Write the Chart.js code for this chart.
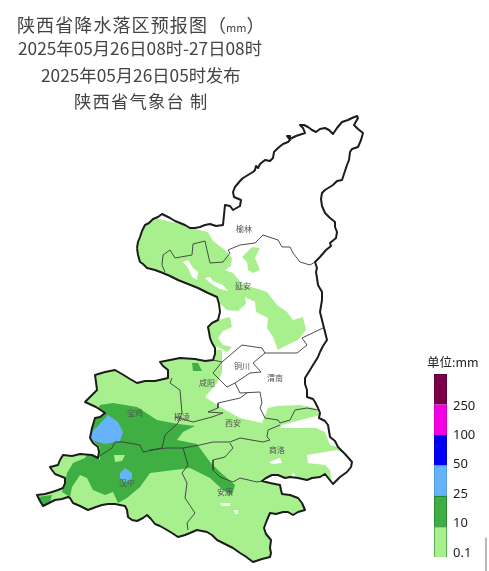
<!DOCTYPE html>
<html>
<head>
<meta charset="utf-8">
<script src="https://cdn.jsdelivr.net/npm/chart.js@4"></script>
<style>
  html, body { margin: 0; padding: 0; background: #fff; }
  body { position: relative; width: 489px; height: 571px; overflow: hidden; font-family: "Noto Sans CJK SC", sans-serif; }
  #map { position: absolute; left: 0; top: 0; }
  #scale { position: absolute; left: 410px; top: 345px; }
  .t { position: absolute; color: #444; font-size: 17.3px; line-height: 22px; white-space: nowrap; }
  #unit { position: absolute; left: 427px; top: 353px; font-size: 12.5px; line-height: 17px; color: #222; white-space: nowrap; }
</style>
</head>
<body>
<canvas id="map" width="489" height="571"></canvas>
<canvas id="scale" width="79" height="226"></canvas>
<div class="t" style="left:17px;top:13px;font-size:18px;letter-spacing:1.1px">陕西省降水落区预报图<span style="letter-spacing:0">（<span style="font-size:11px">mm</span>）</span></div>
<div class="t" style="left:18px;top:37px">2025年05月26日08时-27日08时</div>
<div class="t" style="left:41px;top:64px">2025年05月26日05时发布</div>
<div class="t" style="left:74px;top:90px;letter-spacing:1.2px">陕西省气象台 制</div>
<div id="unit">单位:mm</div>
<script>
// map units: 1 unit = 1 px of the source map
const provinceBorder = [[137,248],[138,242],[140,237],[142,231],[145,225],[149,223],[153,219],[158,217],[162,214],[166,216],[170,218],[175,221],[180,223],[185,225],[190,228],[195,228],[200,227],[205,225],[210,224],[216,226],[223,225],[224,215],[225,205],[230,206],[233,210],[240,206],[241,200],[234,197],[233,192],[235,187],[240,181],[243,178],[248,175],[253,172],[255,170],[256,166],[258,168],[260,164],[265,160],[270,161],[273,158],[274,152],[278,148],[283,144],[288,142],[290,140],[287,136],[290,136],[290,139],[296,136],[302,134],[305,133],[303,128],[300,125],[304,125],[308,127],[312,130],[316,132],[320,129],[325,128],[329,130],[333,134],[337,128],[342,122],[348,120],[352,118],[357,116],[358,118],[354,125],[358,129],[363,133],[361,140],[358,147],[352,149],[350,152],[349,160],[347,165],[345,171],[343,177],[342,180],[337,181],[333,185],[325,190],[322,193],[321,199],[322,206],[325,213],[330,218],[335,222],[335,227],[337,232],[336,238],[330,243],[331,246],[326,250],[320,257],[315,262],[317,268],[316,272],[317,278],[318,285],[322,292],[322,300],[320,312],[322,320],[324,328],[327,340],[323,346],[320,352],[318,357],[313,365],[310,370],[305,378],[305,384],[307,390],[307,397],[313,399],[315,402],[318,408],[320,413],[319,418],[325,421],[328,425],[329,431],[330,437],[335,441],[338,447],[345,454],[352,462],[351,467],[347,472],[340,477],[335,482],[333,484],[329,479],[325,474],[320,477],[312,478],[307,480],[298,478],[290,477],[285,478],[278,475],[272,475],[266,478],[262,481],[270,483],[280,485],[281,490],[282,494],[290,495],[298,498],[302,503],[305,510],[298,512],[293,515],[288,512],[283,512],[276,514],[270,513],[267,520],[264,528],[266,534],[271,540],[270,548],[271,553],[270,557],[262,559],[253,562],[245,556],[240,553],[233,548],[225,544],[217,540],[212,535],[207,532],[202,531],[197,530],[190,533],[185,535],[178,537],[172,533],[167,530],[160,526],[155,524],[151,519],[147,515],[143,518],[137,521],[132,520],[128,517],[127,510],[125,506],[115,504],[108,504],[102,505],[96,507],[88,510],[80,506],[73,503],[70,498],[68,497],[62,499],[55,500],[49,503],[43,506],[40,501],[37,495],[45,494],[52,492],[58,490],[63,488],[65,483],[65,478],[60,476],[55,474],[52,470],[50,467],[58,465],[60,460],[63,455],[72,456],[80,454],[92,455],[98,458],[99,452],[98,447],[93,443],[90,438],[92,428],[95,418],[100,417],[105,413],[96,407],[85,402],[91,396],[97,390],[96,382],[95,375],[105,372],[115,370],[122,374],[130,379],[137,383],[145,381],[155,381],[168,378],[168,370],[163,366],[160,362],[170,360],[180,358],[195,359],[205,361],[213,360],[215,354],[215,348],[212,343],[210,338],[209,332],[208,327],[212,323],[218,320],[220,312],[219,304],[217,297],[208,293],[198,288],[188,284],[178,280],[170,276],[163,273],[155,270],[147,268],[143,264],[140,262],[138,255],[137,248]];

const cityLines = [
  [[315,262],[310,265],[300,262],[293,253],[290,247],[282,247],[278,240],[263,235],[255,243],[240,245],[228,250],[230,253],[223,262],[210,263],[207,250],[205,241],[193,244],[192,255],[175,258],[170,250],[163,255],[162,265],[165,272]],
  [[323,328],[302,338],[307,345],[297,353],[265,353],[262,348],[242,345],[222,362],[213,373],[227,387],[235,383],[250,373],[261,372],[253,363],[265,353]],
  [[222,362],[213,360]],
  [[235,383],[240,393],[260,392],[262,403],[260,408],[265,418],[278,420],[280,423],[290,420],[295,410],[307,408],[318,410]],
  [[247,393],[240,398],[218,403],[218,408],[208,412],[223,413],[212,417],[193,422],[175,417]],
  [[280,425],[268,430],[267,437],[270,440],[263,442],[240,438],[230,442],[213,442],[200,445],[183,448],[167,448],[150,450]],
  [[230,443],[233,448],[225,457],[213,460],[213,470],[220,477],[233,482],[240,478],[257,482],[262,481]],
  [[172,378],[170,383],[180,390],[182,413],[178,423],[165,435],[162,448]],
  [[98,457],[112,448],[115,442],[123,442],[140,445],[143,452],[162,448]],
  [[183,448],[188,465],[182,473],[187,483],[185,498],[195,513],[187,523],[188,530]]
];

// rain areas, clipped to the province when drawn
const lightNorth = [[130,212],[180,224],[195,229],[208,232],[213,241],[225,250],[232,258],[231,266],[225,270],[233,273],[243,285],[255,288],[267,292],[277,305],[287,312],[293,320],[303,317],[306,330],[298,340],[287,345],[278,350],[273,337],[267,328],[268,318],[256,312],[255,302],[245,297],[246,304],[238,311],[227,310],[218,302],[216,295],[197,295],[163,282],[130,272]];
const lightNorthPatch = [[242,257],[252,247],[260,248],[255,258],[260,270],[253,273],[248,270],[247,262]];
const lightMiddlePatch = [[205,330],[218,320],[230,317],[232,327],[223,331],[218,338],[223,345],[232,347],[227,352],[218,347],[205,345]];
const lightSouth = [[30,350],[222,350],[222,373],[217,383],[205,397],[222,408],[240,418],[262,423],[268,408],[277,406],[300,405],[315,408],[320,415],[312,417],[282,425],[280,428],[316,428],[325,432],[330,445],[338,447],[360,462],[340,490],[300,520],[280,570],[30,570]];
const dryAreas = [
  [[183,262],[188,260],[193,268],[198,272],[197,280],[192,277],[188,268]],
  [[205,278],[210,277],[213,281],[223,285],[228,291],[220,289],[213,285],[208,281]],
  [[307,455],[337,450],[360,462],[340,490],[332,483],[330,470],[325,465],[308,463]],
  [[269,462],[280,458],[282,463],[272,464]],
  [[292,473],[295,474],[295,477],[292,477]],
  [[220,503],[230,503],[230,506],[222,506]],
  [[234,510],[238,510],[238,514],[235,514]]
];
const midMain = [[97,410],[100,405],[113,403],[137,407],[157,420],[178,424],[195,426],[183,432],[177,440],[197,444],[210,462],[220,472],[235,485],[232,495],[223,490],[210,478],[190,468],[150,473],[140,487],[127,498],[118,503],[113,492],[105,495],[93,490],[87,478],[80,475],[72,487],[70,497],[62,492],[65,482],[67,473],[73,463],[85,458],[90,450],[100,460],[100,447],[80,430]];
const midWest = [[36,497],[52,495],[50,502],[43,508]];
const midXianyang = [[192,363],[198,363],[202,371],[193,371]];
const lightGap = [[114,455],[125,455],[122,461],[115,462]];
const heavyBaoji = [[108,415],[118,422],[123,432],[120,441],[105,444],[85,438],[97,427]];
const heavyHanzhong = [[120,473],[125,468],[132,473],[132,480],[125,482],[120,478]];

const cityNames = ["榆林","延安","铜川","渭南","咸阳","西安","商洛","安康","宝鸡","杨凌","汉中"];
const cityX = [244,243,242,275,207,233,277,225,135,182,127];
const cityY = [229,286,366,378,383,423,450,492,413,417,483];
const scanEdge = [[486,538],[486,571]];

const bandLabels = ["0.1","10","25","50","100","250"];
const bandColors = ["#a8f08e","#3fae43","#66b2fb","#0000f5","#f400e4","#7c0048"];
const bandEdges = ["#2f8f38","#1f7a2b","#4c93c9","#0000c0","#c800c0","#5a0035"];

const LIGHT = "#a8f08e", MID = "#3fae43", HEAVY = "#66b2fb";

function pts(list) { return list.map(p => ({ x: p[0], y: p[1] })); }
function area(list, color) {
  return { data: pts(list), showLine: true, fill: "shape", backgroundColor: color, borderWidth: 0, pointRadius: 0, tension: 0 };
}
function stroke(list, color, width) {
  return { data: pts(list), showLine: true, fill: false, borderColor: color, borderWidth: width, borderJoinStyle: "round", pointRadius: 0, tension: 0 };
}

// chart.js paints dataset 0 last, so top layers go first
const lines = [stroke(provinceBorder, "#1c1c1c", 2)]
  .concat(cityLines.map(l => stroke(l, "#3a3a3a", 0.9)))
  .concat([stroke(scanEdge, "#8a8a8a", 1.2)]);
const areas = [
  area(heavyHanzhong, HEAVY), area(heavyBaoji, HEAVY),
  area(lightGap, LIGHT),
  area(midXianyang, MID), area(midWest, MID), area(midMain, MID)
].concat(dryAreas.map(a => area(a, "#ffffff")))
 .concat([area(lightSouth, LIGHT), area(lightMiddlePatch, LIGHT), area(lightNorthPatch, LIGHT), area(lightNorth, LIGHT)]);

const firstArea = lines.length;

const clipToProvince = {
  id: "clipToProvince",
  beforeDatasetsDraw(chart) {
    const { ctx, scales } = chart;
    ctx.save();
    ctx.beginPath();
    provinceBorder.forEach((p, i) => {
      const x = scales.x.getPixelForValue(p[0]), y = scales.y.getPixelForValue(p[1]);
      if (i === 0) ctx.moveTo(x, y); else ctx.lineTo(x, y);
    });
    ctx.closePath();
    ctx.clip();
  },
  afterDatasetDraw(chart, args) {
    if (args.index === firstArea) chart.ctx.restore();
  }
};

const cityLabels = {
  id: "cityLabels",
  afterDatasetsDraw(chart) {
    const { ctx, scales } = chart;
    ctx.save();
    ctx.font = '8px "Noto Sans CJK SC"';
    ctx.fillStyle = "#555";
    ctx.textAlign = "center";
    ctx.textBaseline = "middle";
    cityNames.forEach((n, i) => ctx.fillText(n, scales.x.getPixelForValue(cityX[i]), scales.y.getPixelForValue(cityY[i])));
    ctx.restore();
  }
};

new Chart(document.getElementById("map"), {
  type: "scatter",
  data: { datasets: lines.concat(areas) },
  options: {
    responsive: false,
    animation: false,
    layout: { padding: 0 },
    plugins: { legend: { display: false }, tooltip: { enabled: false } },
    scales: {
      x: { type: "linear", display: false, min: 0, max: 489 },
      y: { type: "linear", display: false, min: 0, max: 571, reverse: true }
    }
  },
  plugins: [clipToProvince, cityLabels]
});

new Chart(document.getElementById("scale"), {
  type: "bar",
  data: {
    labels: [""],
    datasets: bandColors.map((c, i) => ({ data: [1], backgroundColor: c, borderColor: bandEdges[i], borderWidth: 1, barPercentage: 1, categoryPercentage: 1 }))
  },
  options: {
    responsive: false,
    animation: false,
    layout: { padding: { left: 24, top: 29, bottom: 13, right: 0 } },
    plugins: { legend: { display: false }, tooltip: { enabled: false } },
    scales: {
      x: { stacked: true, display: false },
      y: { stacked: true, display: false, min: 0, max: 6 },
      // the labels sit a little tighter than the colour bands
      labels: {
        position: "right", min: -0.034, max: 6.182,
        grid: { display: false, drawTicks: false }, border: { display: false },
        afterFit(s) { s.width = 42; },
        ticks: {
          stepSize: 1, includeBounds: false, padding: 6, labelOffset: -3, color: "#222",
          font: { family: "Noto Sans", size: 13 },
          callback: v => bandLabels[Math.round(v)]
        }
      }
    }
  }
});
</script>
</body>
</html>
